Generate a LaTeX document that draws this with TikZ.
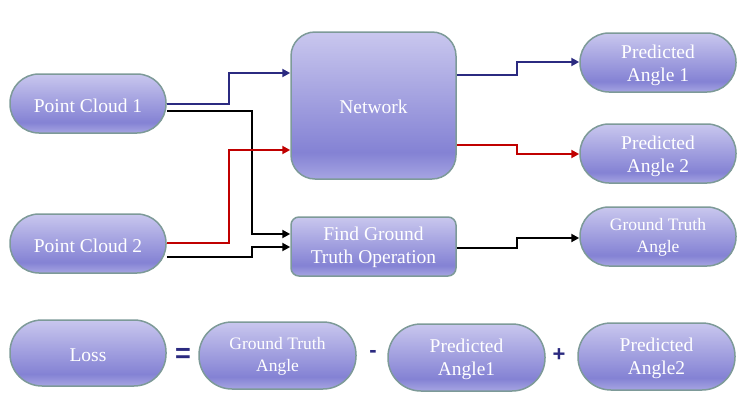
\documentclass[tikz,border=0pt]{standalone}
\usepackage{fontspec}
\setmainfont{Liberation Serif}
\newfontfamily\opfont{Liberation Sans}
\usetikzlibrary{arrows.meta}
\definecolor{shtop}{HTML}{C9C7EE}
\definecolor{shdark}{HTML}{8482D4}
\definecolor{shbot}{HTML}{A6A5E2}
\definecolor{bordc}{HTML}{7D9A98}
\definecolor{navy}{HTML}{2B2A80}
\definecolor{redc}{HTML}{C00000}
\pgfdeclareverticalshading{bubble}{100bp}{color(0bp)=(shbot); color(25bp)=(shbot); color(34bp)=(shdark); color(75bp)=(shtop); color(100bp)=(shtop)}
\tikzset{
  box/.style={draw=bordc, line width=1.5pt, shading=bubble, inner sep=0pt},
  pill/.style={box, minimum width=156pt, minimum height=59pt, rounded corners=29pt},
  big/.style={minimum width=157pt, minimum height=67pt, rounded corners=33pt},
  txt/.style={text=white, align=center, font=\fontsize{19.5}{23}\selectfont, inner sep=0pt},
  small/.style={font=\fontsize{17.5}{22}\selectfont},
  conn/.style={line width=2.8pt, -{Triangle[length=8pt,width=8pt]}},
  op/.style={text=navy, font=\opfont\bfseries\fontsize{22}{22}\selectfont}
}
\begin{document}
\begin{tikzpicture}[x=1pt,y=-1pt]
\useasboundingbox (0,0) rectangle (752,405);
% shapes
\node[pill] (pc1) at (88,103.5) {};
\node[pill] (pc2) at (88,243.5) {};
\node[box, minimum width=165pt, minimum height=147pt, rounded corners=24pt] (net) at (373.5,105.5) {};
\node[box, minimum width=165pt, minimum height=59pt, rounded corners=8pt] (fgt) at (373.5,246.5) {};
\node[pill] (pa1) at (658,62.5) {};
\node[pill] (pa2) at (658,153.5) {};
\node[pill] (gta) at (658,236.5) {};
\node[pill, minimum height=66pt, rounded corners=32pt] (loss) at (88,353) {};
\node[pill, big] (gtb) at (277.5,355.5) {};
\node[pill, big] (pb1) at (466.5,357.5) {};
\node[pill, big] (pb2) at (656.5,356.5) {};
% texts
\node[txt] (pc1t) at ([yshift=-2pt]pc1.center) {Point Cloud 1};
\node[txt] (pc2t) at ([yshift=-2pt]pc2.center) {Point Cloud 2};
\node[txt] (nett) at ([yshift=-1pt]net.center) {Network};
\node[txt] (fgtt) at ([yshift=-1pt]fgt.center) {Find Ground\\Truth Operation};
\node[txt] (pa1t) at ([yshift=-3pt]pa1.center) {Predicted\\Angle 1};
\node[txt] (pa2t) at ([yshift=-3pt]pa2.center) {Predicted\\Angle 2};
\node[txt, small] (gtat) at ([yshift=-1pt]gta.center) {Ground Truth\\Angle};
\node[txt] (losst) at ([yshift=-2pt]loss.center) {Loss};
\node[txt, small] (gtbt) at ([yshift=-1pt]gtb.center) {Ground Truth\\Angle};
\node[txt] (pb1t) at ([yshift=-2pt]pb1.center) {Predicted\\Angle1};
\node[txt] (pb2t) at ([yshift=-2pt]pb2.center) {Predicted\\Angle2};
\node[op, font=\opfont\bfseries\fontsize{27}{27}\selectfont] (eq) at (183,355) {=};
\node[op] (mn) at (373,354) {-};
\node[op] (pl) at (559,355) {+};
% connectors
\draw[conn, navy] (pc1.east |- 0,104) -| (229,73) -- (net.west |- 0,73);
\draw[conn, black] (pc1.east |- 0,111) -| (252,234) -- (fgt.west |- 0,234);
\draw[conn, redc] (pc2.east |- 0,243) -| (229,150) -- (net.west |- 0,150);
\draw[conn, black] (pc2.east |- 0,257) -| (252,247) -- (fgt.west |- 0,247);
\draw[conn, navy] (net.east |- 0,75) -| (517,62) -- (pa1.west |- 0,62);
\draw[conn, redc] (net.east |- 0,145) -| (517,154) -- (pa2.west |- 0,154);
\draw[conn, black] (fgt.east |- 0,248) -| (517,238) -- (gta.west |- 0,238);
\end{tikzpicture}
\end{document}
